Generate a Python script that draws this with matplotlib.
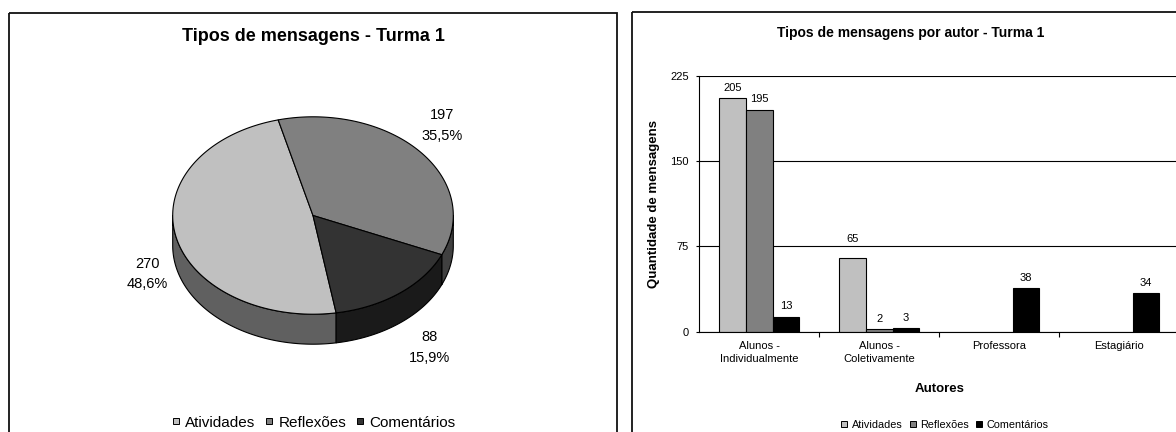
import numpy as np
import matplotlib
matplotlib.use("Agg")
import matplotlib.pyplot as plt
from matplotlib.patches import Polygon, Rectangle
from matplotlib.lines import Line2D

plt.rcParams["font.family"] = ["Liberation Sans", "DejaVu Sans"]

# ---- data ----
tipos = ["Atividades", "Reflexões", "Comentários"]
totais_tipo = [270, 197, 88]

autores = ["Alunos -\nIndividualmente", "Alunos -\nColetivamente", "Professora", "Estagiário"]
atividades = [205, 65, np.nan, np.nan]
reflexoes = [195, 2, np.nan, np.nan]
comentarios = [13, 3, 38, 34]
y_ticks = [0, 75, 150, 225]

# ---- styling ----
top_colors = ["#C0C0C0", "#808080", "#333333"]
side_colors = ["#606060", "#404040", "#1A1A1A"]
bar_colors = ["#C0C0C0", "#808080", "#000000"]

W, H = 1176, 432
fig = plt.figure(figsize=(W / 100, H / 100), dpi=100, facecolor="white")

# full-figure pixel canvas for panels, pie and titles
bg = fig.add_axes([0, 0, 1, 1])
bg.set_xlim(0, W)
bg.set_ylim(H, 0)
bg.axis("off")

# panel frames
for x0, y0, x1 in [(9.3, 13, 617), (632, 12, 1192)]:
    bg.add_patch(Rectangle((x0, y0), x1 - x0, 460, fill=False, edgecolor="#111111",
                           lw=1.3, clip_on=False))

# ---- 3-D pie ----
CX, CY, RA, RB, DEPTH = 313, 215.5, 140.3, 98.7, 30
START = -80.5          # angle where the first slice begins (degrees, clockwise)
EDGE = dict(edgecolor="black", lw=0.8, joinstyle="round")


def rim(t, dz=0.0):
    r = np.radians(t)
    return np.column_stack([CX + RA * np.cos(r), CY - RB * np.sin(r) + dz])


total = sum(totais_tipo)
spans = [360.0 * v / total for v in totais_tipo]
bounds = []
t0 = START
for s in spans:
    bounds.append((t0, t0 - s))
    t0 -= s

# side walls (front half only)
for (ta, tb), col in zip(bounds, side_colors):
    for k in range(-2, 2):
        lo = max(tb, -180 + 360 * k)
        hi = min(ta, 0 + 360 * k)
        if hi > lo:
            ts = np.linspace(lo, hi, 120)
            pts = np.vstack([rim(ts), rim(ts[::-1], DEPTH)])
            bg.add_patch(Polygon(pts, closed=True, facecolor=col, **EDGE))

# top faces
for (ta, tb), col in zip(bounds, top_colors):
    ts = np.linspace(ta, tb, 240)
    pts = np.vstack([[CX, CY], rim(ts)])
    bg.add_patch(Polygon(pts, closed=True, facecolor=col, **EDGE))

# slice labels: value and percentage
label_offsets = [(-28, 8), (22, -26), (30, 24)]
for (ta, tb), v, (ox, oy) in zip(bounds, totais_tipo, label_offsets):
    mid = (ta + tb) / 2
    dz = DEPTH if np.sin(np.radians(mid)) < 0 else 0
    px, py = rim(np.array([mid]), dz)[0]
    lx, ly = px + ox, py + oy
    pct = f"{100 * v / total:.1f}".replace(".", ",") + "%"
    bg.text(lx, ly - 10.3, f"{v}", ha="center", va="center", fontsize=10.5)
    bg.text(lx, ly + 10.3, pct, ha="center", va="center", fontsize=10.5)

bg.text(313, 36.7, "Tipos de mensagens - Turma 1", ha="center", va="center",
        fontsize=13, fontweight="bold")


def square_handles(colors, size):
    return [Line2D([], [], linestyle="none", marker="s", markersize=size,
                   markerfacecolor=c, markeredgecolor="black", markeredgewidth=0.7)
            for c in colors]


pie_leg = bg.legend(square_handles(top_colors, 4.4), tipos, loc="center",
                    bbox_to_anchor=(313.8, 422.7), bbox_transform=bg.transData,
                    ncol=3, frameon=False, fontsize=11, handlelength=0.45,
                    handletextpad=0.4, columnspacing=0.65, borderpad=0, borderaxespad=0)
bg.add_artist(pie_leg)

# ---- grouped bars ----
ax = fig.add_axes([699.3 / W, (H - 331.7) / H, 480 / W, 256 / H])
ax.set_facecolor("none")
x = np.arange(len(autores))
bw = 0.2222
series = [atividades, reflexoes, comentarios]
for i, (vals, col) in enumerate(zip(series, bar_colors)):
    xs = x + (i - 1) * bw
    ax.bar(xs, vals, width=bw, color=col, edgecolor="black", lw=0.8, zorder=3)
    for xi, v in zip(xs, vals):
        if np.isnan(v):
            continue
        off = 13.7 if (i == 0 and v == 65) else 7.5
        ax.annotate(f"{int(v)}", (xi, v), xytext=(0, off), textcoords="offset points",
                    ha="center", va="center", fontsize=8)

ax.set_xlim(-0.5, len(autores) - 0.5)
ax.set_ylim(y_ticks[0], y_ticks[-1])
ax.set_yticks(y_ticks)
ax.set_xticks(x)
ax.set_xticklabels(autores, fontsize=8, linespacing=1.35)
ax.set_xticks(np.arange(len(autores)) + 0.5, minor=True)
ax.tick_params(axis="x", which="major", length=0, pad=7)
ax.tick_params(axis="x", which="minor", length=3.5, width=0.8, direction="out")
ax.tick_params(axis="y", length=2.5, width=0.8, direction="out", pad=5, labelsize=8)
ax.yaxis.grid(True, color="black", lw=0.8, zorder=0)
ax.set_axisbelow(True)
for side in ["top", "right"]:
    ax.spines[side].set_visible(False)
for side in ["left", "bottom"]:
    ax.spines[side].set_linewidth(0.8)
    ax.spines[side].set_zorder(4)

bg.text(911, 33.3, "Tipos de mensagens por autor - Turma 1", ha="center", va="center",
        fontsize=10, fontweight="bold")
bg.text(939.3, 389, "Autores", ha="center", va="center", fontsize=9.5, fontweight="bold")
bg.text(654.3, 203.7, "Quantidade de mensagens", ha="center", va="center",
        rotation=90, fontsize=9.5, fontweight="bold")

bg.legend(square_handles(bar_colors, 4.8), tipos, loc="center",
          bbox_to_anchor=(944.7, 425), bbox_transform=bg.transData, ncol=3,
          frameon=False, fontsize=7.8, handlelength=0.62, handletextpad=0.4,
          columnspacing=0.6, borderpad=0, borderaxespad=0)

fig.savefig("out.png", dpi=100, facecolor="white")
